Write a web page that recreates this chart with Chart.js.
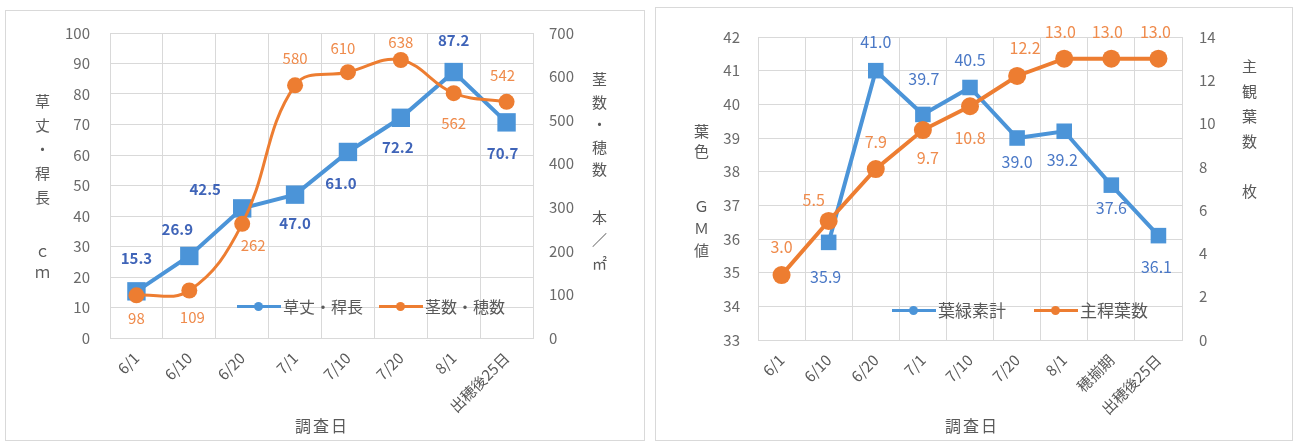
<!DOCTYPE html>
<html lang="ja">
<head>
<meta charset="UTF-8">
<title>草丈・茎数と葉色・葉数の推移</title>
<script src="https://cdn.jsdelivr.net/npm/chart.js"></script>
<style>
  html, body { margin: 0; padding: 0; background: #fff; width: 1295px; height: 443px; overflow: hidden;
               font-family: "Noto Sans CJK JP", "Noto Sans", sans-serif; color: #595959; }
  .frame { position: absolute; border: 1px solid #d9d9d9; box-sizing: border-box; }
  canvas { position: absolute; }
  .vt { position: absolute; writing-mode: vertical-rl; text-orientation: upright; font-size: 15px;
        line-height: 15px; white-space: nowrap; }
  .xt { position: absolute; font-size: 16px; transform: translate(-50%, -50%); letter-spacing: 2px; }
  .leg { position: absolute; font-size: 16px; line-height: 20px; display: flex; align-items: center; white-space: nowrap; }
  .sw { position: relative; display: inline-block; width: 44px; height: 3px; margin-right: 2px; }
  .sw::after { content: ''; position: absolute; left: 17px; top: -3px; width: 9px; height: 9px;
               border-radius: 50%; background: inherit; }
</style>
</head>
<body>
  <!-- 左：草丈・茎数 -->
  <div class="frame" style="left:5px;top:10px;width:640px;height:431px"></div>
  <canvas id="growthChart" width="640" height="431" style="left:5px;top:10px"></canvas>
  <div class="vt" style="left:35px;top:94px;letter-spacing:9px">草丈・稈長</div>
  <div class="vt" style="left:35px;top:245px;letter-spacing:6px">ｃｍ</div>
  <div class="vt" style="left:592px;top:72px;letter-spacing:7.5px">茎数・穂数</div>
  <div class="vt" style="left:592px;top:210px;letter-spacing:7.5px">本／㎡</div>
  <div class="xt" style="left:322px;top:425px">調査日</div>
  <div class="leg" style="left:237px;top:296px">
    <span class="sw" style="background:#4b94d8"></span>草丈・稈長
    <span class="sw" style="background:#ed7d31;margin-left:16px"></span>茎数・穂数
  </div>

  <!-- 右：葉色・葉数 -->
  <div class="frame" style="left:655px;top:7px;width:638px;height:434px"></div>
  <canvas id="leafChart" width="638" height="434" style="left:655px;top:7px"></canvas>
  <div class="vt" style="left:694px;top:124px;letter-spacing:5px">葉色</div>
  <div class="vt" style="left:694px;top:199px;letter-spacing:7px">ＧＭ値</div>
  <div class="vt" style="left:1242px;top:59px;letter-spacing:10px">主観葉数</div>
  <div class="vt" style="left:1242px;top:184px">枚</div>
  <div class="xt" style="left:972px;top:425px">調査日</div>
  <div class="leg" style="left:892px;top:300px;font-size:17px">
    <span class="sw" style="background:#4b94d8"></span>葉緑素計
    <span class="sw" style="background:#ed7d31;margin-left:28px"></span>主稈葉数
  </div>

<script>
// 左グラフのデータ
const growthDates = ['6/1', '6/10', '6/20', '7/1', '7/10', '7/20', '8/1', '出穂後25日'];
const plantHeight = [15.3, 26.9, 42.5, 47.0, 61.0, 72.2, 87.2, 70.7];   // 草丈・稈長 (cm)
const stemCount = [98, 109, 262, 580, 610, 638, 562, 542];              // 茎数・穂数 (本/㎡)

// 右グラフのデータ
const leafDates = ['6/1', '6/10', '6/20', '7/1', '7/10', '7/20', '8/1', '穂揃期', '出穂後25日'];
const spadValue = [null, 35.9, 41.0, 39.7, 40.5, 39.0, 39.2, 37.6, 36.1]; // 葉緑素計 (GM値)
const leafCount = [3.0, 5.5, 7.9, 9.7, 10.8, 12.2, 13.0, 13.0, 13.0];    // 主稈葉数 (枚)

const BLUE = '#4b94d8';
const ORANGE = '#ed7d31';
const GRID = '#d9d9d9';
const TICK = { size: 15, family: '"Noto Sans CJK JP", "Noto Sans", sans-serif' };

// ラベルのずらし量 (dx, dy)
const growthBlueOff = [[0,-33],[-12,-27],[-37,-19],[0,29],[-7,31],[-3,30],[0,-32],[-4,31]];
const growthOrangeOff = [[0,23],[3,27],[11,21],[0,-27],[-5,-24],[0,-18],[0,30],[-4,-27]];
const leafBlueOff = [[0,0],[-3,35],[0,-29],[1,-36],[0,-28],[0,24],[-2,29],[0,23],[-2,31]];
const leafOrangeOff = [[0,-28],[-15,-21],[0,-27],[5,28],[0,32],[8,-28],[-4,-27],[-4,-27],[-3,-27]];

// データラベルを描くプラグイン
const valueLabels = {
    id: 'valueLabels',
    afterDatasetsDraw(chart, args, opts) {
        const ctx = chart.ctx;
        chart.data.datasets.forEach((ds, i) => {
            const st = opts.styles[i];
            const meta = chart.getDatasetMeta(i);
            ctx.save();
            ctx.font = st.font;
            ctx.fillStyle = st.color;
            ctx.textAlign = 'center';
            ctx.textBaseline = 'middle';
            meta.data.forEach((pt, j) => {
                const v = ds.data[j];
                if (v === null) return;
                const off = st.offsets[j];
                ctx.fillText(v.toFixed(st.digits), pt.x + off[0], pt.y + off[1]);
            });
            ctx.restore();
        });
    }
};

function yAxis(position, min, max, step, width, pad, grid) {
    return {
        position: position, min: min, max: max,
        ticks: { stepSize: step, padding: pad, color: '#6a6a6a', font: TICK },
        grid: { display: grid, color: GRID, drawTicks: false },
        border: { display: false },
        afterFit(scale) {
            scale.width = width;
            // tick padding がプロット上端を押し下げないように
            scale.paddingTop = 0;
            scale.paddingBottom = 0;
        }
    };
}

function xAxis(height) {
    return {
        offset: true,
        ticks: { autoSkip: false, minRotation: 45, maxRotation: 45, padding: 11, color: '#595959', font: TICK },
        grid: { color: GRID, offset: true, drawTicks: false },
        border: { color: GRID },
        afterFit(scale) { scale.height = height; }
    };
}

new Chart(document.getElementById('growthChart'), {
    type: 'line',
    data: {
        labels: growthDates,
        datasets: [{
            label: '草丈・稈長',
            data: plantHeight,
            yAxisID: 'y',
            borderColor: BLUE, backgroundColor: BLUE,
            borderWidth: 4, tension: 0,
            pointStyle: 'rect', pointRadius: 13, pointBorderWidth: 0,
            order: 2
        }, {
            label: '茎数・穂数',
            data: stemCount,
            yAxisID: 'y1',
            borderColor: ORANGE, backgroundColor: ORANGE,
            borderWidth: 3, tension: 0.4,
            pointStyle: 'circle', pointRadius: 8, pointBorderWidth: 0,
            order: 1
        }]
    },
    options: {
        responsive: false,
        animation: false,
        layout: { autoPadding: false, padding: { top: 23 } },
        scales: {
            x: xAxis(103),
            y: yAxis('left', 0, 100, 10, 105, 20, true),
            y1: yAxis('right', 0, 700, 100, 112, 16, false)
        },
        plugins: {
            legend: { display: false },
            tooltip: { enabled: false },
            valueLabels: {
                styles: [
                    { color: '#3f64b8', font: 'bold 15px "Noto Sans CJK JP", sans-serif', digits: 1, offsets: growthBlueOff },
                    { color: '#ef8b4c', font: '15px "Noto Sans CJK JP", sans-serif', digits: 0, offsets: growthOrangeOff }
                ]
            }
        }
    },
    plugins: [valueLabels]
});

new Chart(document.getElementById('leafChart'), {
    type: 'line',
    data: {
        labels: leafDates,
        datasets: [{
            label: '葉緑素計',
            data: spadValue,
            yAxisID: 'y',
            borderColor: BLUE, backgroundColor: BLUE,
            borderWidth: 4, tension: 0,
            pointStyle: 'rect', pointRadius: 11, pointBorderWidth: 0,
            order: 2
        }, {
            label: '主稈葉数',
            data: leafCount,
            yAxisID: 'y1',
            borderColor: ORANGE, backgroundColor: ORANGE,
            borderWidth: 4, tension: 0,
            pointStyle: 'circle', pointRadius: 9, pointBorderWidth: 0,
            order: 1
        }]
    },
    options: {
        responsive: false,
        animation: false,
        layout: { autoPadding: false, padding: { top: 30 } },
        scales: {
            x: xAxis(101),
            y: yAxis('left', 33, 42, 1, 103, 18, true),
            y1: yAxis('right', 0, 14, 2, 111, 17, false)
        },
        plugins: {
            legend: { display: false },
            tooltip: { enabled: false },
            valueLabels: {
                styles: [
                    { color: '#4a78c6', font: '16px "Noto Sans CJK JP", sans-serif', digits: 1, offsets: leafBlueOff },
                    { color: '#ef8b4c', font: '16px "Noto Sans CJK JP", sans-serif', digits: 1, offsets: leafOrangeOff }
                ]
            }
        }
    },
    plugins: [valueLabels]
});
</script>
</body>
</html>
